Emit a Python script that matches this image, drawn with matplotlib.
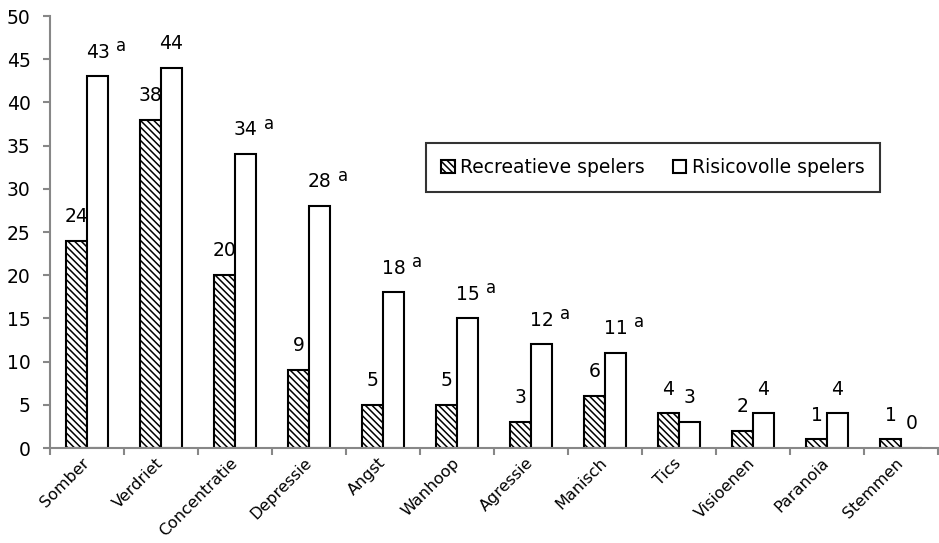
import numpy as np
import matplotlib.pyplot as plt

plt.rcParams["font.family"] = ["DejaVu Sans"]
plt.rcParams["hatch.linewidth"] = 1.1

categories = ["Somber", "Verdriet", "Concentratie", "Depressie", "Angst", "Wanhoop",
              "Agressie", "Manisch", "Tics", "Visioenen", "Paranoia", "Stemmen"]
recreatief = [24, 38, 20, 9, 5, 5, 3, 6, 4, 2, 1, 1]
risicovol = [43, 44, 34, 28, 18, 15, 12, 11, 3, 4, 4, 0]
sup_risico = ["a", "", "a", "a", "a", "a", "a", "a", "", "", "", ""]

grey = "#878787"
fs = 13.5
w = 0.285
x = np.arange(len(categories))

fig = plt.figure(figsize=(9.39, 5.43), dpi=100)
ax = fig.add_axes([50 / 939, 1 - 448 / 543, 888 / 939, 432 / 543])

b1 = ax.bar(x - w / 2, recreatief, w, facecolor="white", edgecolor="black",
            hatch="\\\\\\\\\\", linewidth=1.5, label="Recreatieve spelers")
b2 = ax.bar(x + w / 2, risicovol, w, facecolor="white", edgecolor="black",
            linewidth=1.5, label="Risicovolle spelers")

for xi, v in zip(x, recreatief):
    ax.annotate(str(v), (xi - w / 2, v), xytext=(0, 17.5), textcoords="offset points",
                ha="center", va="center", fontsize=fs)
for xi, v, s in zip(x, risicovol, sup_risico):
    ax.annotate(str(v), (xi + w / 2, v), xytext=(0, 17.5), textcoords="offset points",
                ha="center", va="center", fontsize=fs)
    if s:
        ax.annotate(s, (xi + w / 2, v), xytext=(17, 22), textcoords="offset points",
                    ha="center", va="center", fontsize=fs - 1.5)

ax.set_xlim(-0.5, len(categories) - 0.5)
ax.set_ylim(0, 50)
ax.set_yticks(np.arange(0, 51, 5))
ax.set_xticks(x)
ax.set_xticklabels(categories, rotation=45, ha="right", va="center",
                   rotation_mode="anchor", fontsize=fs - 2)
ax.set_xticks(np.arange(-0.5, len(categories), 1), minor=True)
ax.tick_params(axis="x", which="major", length=0, pad=9)
ax.tick_params(axis="x", which="minor", length=5, width=1.5, color=grey, direction="out")
ax.tick_params(axis="y", length=5, width=1.5, color=grey, labelsize=fs, pad=9)

for side in ["top", "right"]:
    ax.spines[side].set_visible(False)
for side in ["left", "bottom"]:
    ax.spines[side].set_color(grey)
    ax.spines[side].set_linewidth(1.5)

leg = ax.legend(ncol=2, loc="center", bbox_to_anchor=(0.679, 0.65), fontsize=fs,
                frameon=True, fancybox=False, edgecolor="black", handlelength=0.7,
                handleheight=0.7, handletextpad=0.3, columnspacing=1.5,
                borderpad=0.8, borderaxespad=0)
leg.get_frame().set_linewidth(1.5)

fig.savefig("out.png", dpi=100)
